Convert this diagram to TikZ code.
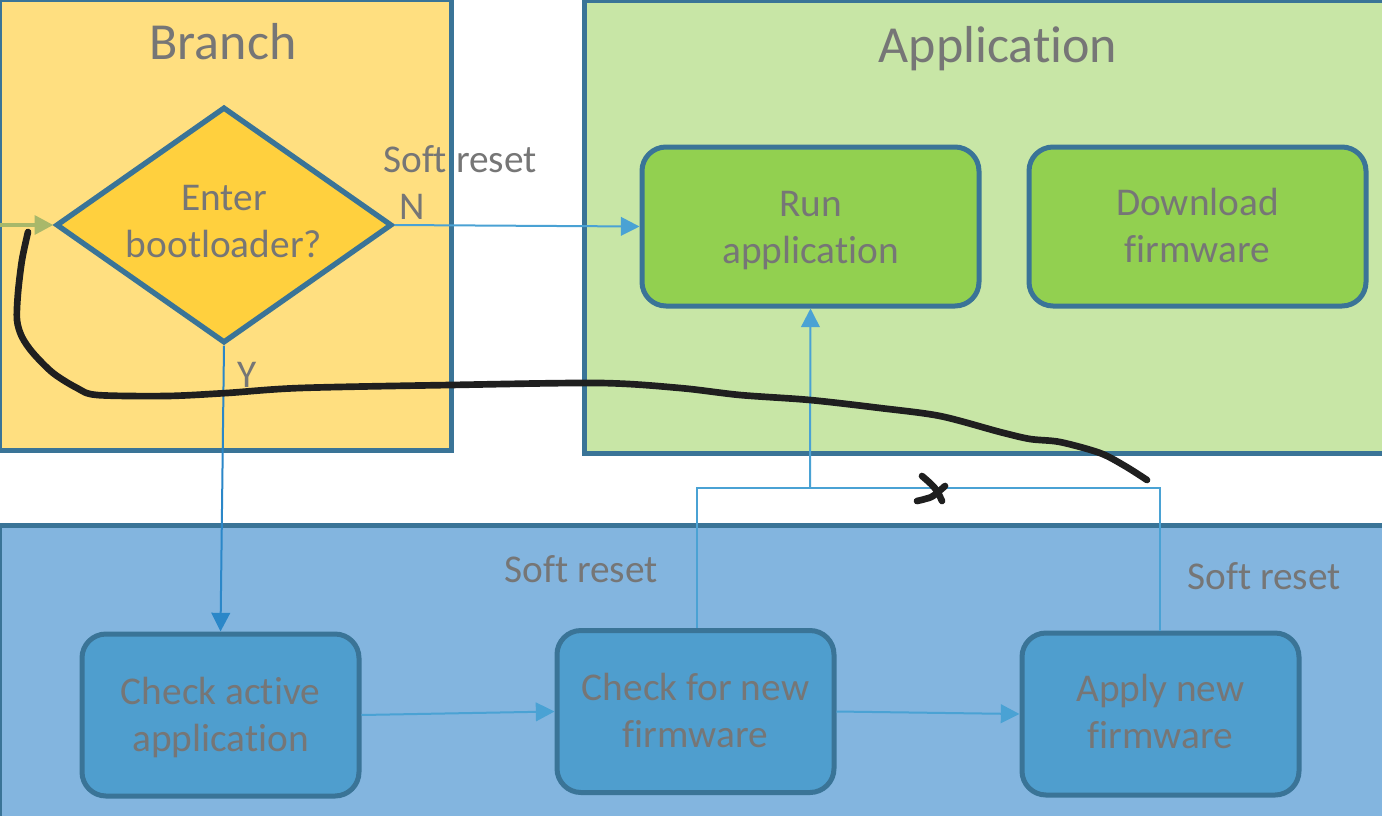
\documentclass[tikz,border=0pt]{standalone}
\usepackage{fontspec}
\setmainfont{Carlito}[Ligatures=NoCommon]
\usetikzlibrary{shapes.geometric,arrows.meta}
\definecolor{bord}{HTML}{3A7497}
\definecolor{txt}{HTML}{767676}
\definecolor{ylw}{HTML}{FFDF80}
\definecolor{dia}{HTML}{FFD03E}
\definecolor{lgr}{HTML}{C8E6A6}
\definecolor{grn}{HTML}{92D050}
\definecolor{lbl}{HTML}{83B5DF}
\definecolor{bbx}{HTML}{4F9ECE}
\definecolor{arr}{HTML}{4AA2D4}
\definecolor{arrd}{HTML}{2B87C8}
\definecolor{olv}{HTML}{A8B86A}
\newcommand{\twolines}[3]{\raisebox{#1}[\height][\depth]{\begin{tabular}{@{}c@{}}#2\\#3\end{tabular}}}
\begin{document}
\begin{tikzpicture}[x=0.75pt,y=-0.75pt,
  every node/.style={text=txt, font=\fontsize{29.5}{35.25}\selectfont, align=center},
  cont/.style={draw=bord, line width=3.75pt},
  gbox/.style={draw=bord, line width=3.75pt, fill=grn, rounded corners=18pt,
    minimum width=252.75pt, minimum height=119.25pt, inner sep=0pt},
  bbox/.style={draw=bord, line width=3.75pt, fill=bbx, rounded corners=18pt,
    minimum width=207.75pt, minimum height=121.5pt, inner sep=0pt},
  decbox/.style={shape=diamond, draw=bord, line width=4pt, fill=dia, aspect=1.42,
    minimum width=252pt, minimum height=177pt, inner sep=0pt},
  conn/.style={draw=arr, line width=1.5pt},
  arrowtip/.style={-{Triangle[length=14pt,width=14pt]}},
  title/.style={font=\fontsize{39}{47}\selectfont, anchor=base},
  lbltext/.style={anchor=base},
  hand/.style={draw=black!88, line width=5pt, line cap=round, line join=round}]
\useasboundingbox (0,0) rectangle (1382,815);
\clip (0,0) rectangle (1382,815);
% containers
\fill[white] (0,0) rectangle (1382,815);
\draw[cont, fill=ylw] (-1,-1) rectangle (451,450);
\draw[cont, fill=lgr] (584,0) rectangle (1400,453);
\draw[cont, fill=lbl] (-1,525) rectangle (1400,830);
\node[title] (tbranch) at (223,59) {Branch};
\node[title] (tapp) at (998,62) {Application};
% nodes
\node[decbox] (dec) at (224,225) {\twolines{0pt}{Enter}{bootloader?}};
\node[gbox] (run) at (810.5,226.5) {\twolines{-3pt}{Run}{application}};
\node[gbox] (dl) at (1197.5,226.5) {\twolines{-2.25pt}{Download}{firmware}};
\node[bbox] (chk) at (220.5,715) {\twolines{-3pt}{Check active}{application}};
\node[bbox] (cfn) at (695.5,711.5) {\twolines{-2.25pt}{Check for new}{firmware}};
\node[bbox] (apl) at (1160.5,714) {\twolines{-1.5pt}{Apply new}{firmware}};
% labels
\node[lbltext] (lsr1) at (460,172) {Soft reset};
\node[lbltext] (ln) at (412,219) {N};
\node[lbltext] (ly) at (247,387) {Y};
\node[lbltext] (lsr2) at (581,582) {Soft reset};
\node[lbltext] (lsr3) at (1264,589) {Soft reset};
% connectors
\coordinate (in) at (-2,225);
\coordinate (j1) at (697,488);
\coordinate (j2) at (810,488);
\coordinate (j3) at (1160,488);
\draw[draw=olv, line width=3pt, arrowtip] (in) -- (dec.west);
\draw[conn, arrowtip] (dec.east) -- (run.west);
\draw[draw=arrd, line width=1.5pt, arrowtip] (dec.south) -- (chk.north);
\draw[conn, arrowtip] (chk.east) -- (cfn.west);
\draw[conn, arrowtip] (cfn.east) -- (apl.west);
\draw[conn] (cfn.north -| j1) -- (j1) -- (j2);
\draw[conn] (apl.north -| j3) -- (j3) -- (j2);
\draw[conn, arrowtip] (j2) -- (run.south);
% hand-drawn annotation
\draw[hand] plot[smooth, tension=0.5] coordinates {
  (28,232) (22,260) (18,293) (17,320) (22,337) (33,353) (53,373) (77,388)
  (97,395) (167,396) (227,393) (300,388) (450,385) (600,383) (680,388)
  (740,395) (810,400) (880,408) (940,416) (1000,432) (1030,439) (1060,442)
  (1100,453) (1125,466) (1147,480)};
\draw[hand] plot[smooth, tension=0.6] coordinates {(922,476) (931,484) (937,491) (942,501)};
\draw[hand] plot[smooth, tension=0.6] coordinates {(917,501) (925,499) (933,496) (945,486)};
\end{tikzpicture}
\end{document}
